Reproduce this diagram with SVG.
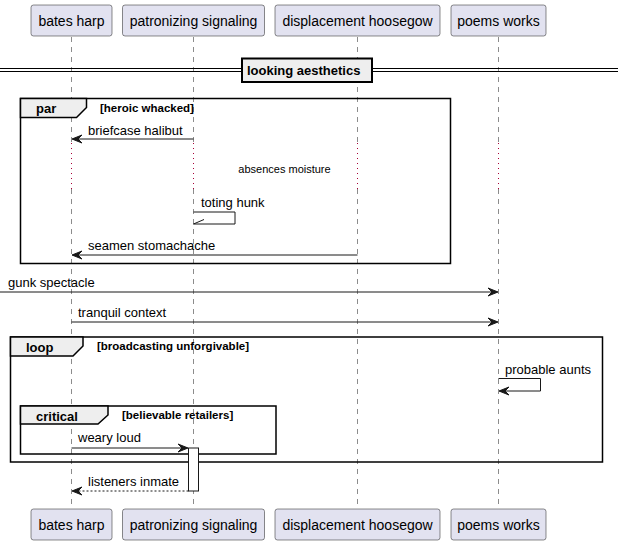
<svg xmlns="http://www.w3.org/2000/svg" width="618" height="545" viewBox="0 0 618 545">
  <defs>
    <style>
      .part rect { fill: #E2E2F0; stroke: #181818; stroke-width: 0.5; }
      .part text { font-family: "Liberation Sans", Arial, sans-serif; font-size: 14px; fill: #000; text-anchor: middle; }
      .life { stroke: #181818; stroke-width: 0.5; stroke-dasharray: 5,5; fill: none; }
      .delay { stroke: #A80036; stroke-width: 1; stroke-dasharray: 1,4; fill: none; }
      .msg { stroke: #181818; stroke-width: 1; fill: none; }
      .msg.ret { stroke-dasharray: 2,2; }
      .head { fill: #181818; stroke: #181818; stroke-width: 1; }
      .lbl { font-family: "Liberation Sans", Arial, sans-serif; font-size: 13px; fill: #000; }
      .note { font-family: "Liberation Sans", Arial, sans-serif; font-size: 11px; fill: #000; text-anchor: middle; }
      .frame { fill: none; stroke: #000; stroke-width: 1.5; }
      .tab { fill: #EEEEEE; stroke: #000; stroke-width: 1.5; }
      .fname { font-family: "Liberation Sans", Arial, sans-serif; font-size: 13px; font-weight: bold; fill: #000; }
      .fcond { font-family: "Liberation Sans", Arial, sans-serif; font-size: 11.5px; font-weight: bold; fill: #000; }
      .act { fill: #FFFFFF; stroke: #181818; stroke-width: 1; }
    </style>
  </defs>

  <!-- lifelines, dotted through the delay -->
  <g id="lifelines">
    <path class="life" d="M71.5,37 V143 M71.5,189 V509"/>
    <path class="life" d="M193.5,37 V143 M193.5,189 V509"/>
    <path class="life" d="M357.5,37 V143 M357.5,189 V509"/>
    <path class="life" d="M498.5,37 V143 M498.5,189 V509"/>
    <path class="delay" d="M71.5,143 V189 M193.5,143 V189 M357.5,143 V189 M498.5,143 V189"/>
  </g>

  <!-- participants, top and bottom -->
  <g id="bates-harp" class="part">
    <rect x="31" y="5" width="81" height="31" rx="2.5"/>
    <text x="71.5" y="26">bates harp</text>
    <rect x="31" y="509" width="81" height="31" rx="2.5"/>
    <text x="71.5" y="530">bates harp</text>
  </g>
  <g id="patronizing-signaling" class="part">
    <rect x="122.5" y="5" width="142" height="31" rx="2.5"/>
    <text x="193.5" y="26">patronizing signaling</text>
    <rect x="122.5" y="509" width="142" height="31" rx="2.5"/>
    <text x="193.5" y="530">patronizing signaling</text>
  </g>
  <g id="displacement-hoosegow" class="part">
    <rect x="275" y="5" width="165" height="31" rx="2.5"/>
    <text x="357.5" y="26">displacement hoosegow</text>
    <rect x="275" y="509" width="165" height="31" rx="2.5"/>
    <text x="357.5" y="530">displacement hoosegow</text>
  </g>
  <g id="poems-works" class="part">
    <rect x="451" y="5" width="95" height="31" rx="2.5"/>
    <text x="498.5" y="26">poems works</text>
    <rect x="451" y="509" width="95" height="31" rx="2.5"/>
    <text x="498.5" y="530">poems works</text>
  </g>

  <!-- separator -->
  <g id="separator">
    <path d="M0,68.5 H618 M0,71.5 H618" stroke="#000" stroke-width="1"/>
    <rect x="242" y="58.5" width="130" height="23.5" fill="#EEEEEE" stroke="#000" stroke-width="2"/>
    <text class="fname" x="247" y="75">looking aesthetics</text>
  </g>

  <!-- frames -->
  <g id="par-frame">
    <rect class="frame" x="20.5" y="98.5" width="430" height="165"/>
    <path class="tab" d="M20.5,98.5 H86.5 V107.5 L76.5,117.5 H20.5 Z"/>
    <text class="fname" x="36" y="113">par</text>
    <text class="fcond" x="100" y="111.5">[heroic whacked]</text>
  </g>
  <g id="loop-frame">
    <rect class="frame" x="10.5" y="337" width="592" height="125"/>
    <path class="tab" d="M10.5,337 H83 V346 L73,356 H10.5 Z"/>
    <text class="fname" x="26" y="351.5">loop</text>
    <text class="fcond" x="97" y="350">[broadcasting unforgivable]</text>
  </g>
  <g id="critical-frame">
    <rect class="frame" x="20.5" y="406" width="255.5" height="48"/>
    <path class="tab" d="M20.5,406 H108 V415 L98,424 H20.5 Z"/>
    <text class="fname" x="36" y="420.5">critical</text>
    <text class="fcond" x="122" y="419">[believable retailers]</text>
  </g>

  <!-- activation -->
  <g id="activation">
    <rect class="act" x="188.5" y="448" width="10" height="43"/>
  </g>

  <!-- messages -->
  <g id="connectors">
    <line class="msg" x1="193.5" y1="139" x2="73" y2="139"/>
    <polygon class="head" points="72,139 82,135 78,139 82,143"/>
    <text class="lbl" x="88" y="134.5">briefcase halibut</text>

    <text class="note" x="284.5" y="173">absences moisture</text>

    <path class="msg" d="M193.5,212 H235 V224 H193.5"/>
    <line class="msg" x1="193.5" y1="224" x2="204" y2="219.5"/>
    <text class="lbl" x="201" y="207">toting hunk</text>

    <line class="msg" x1="357.5" y1="255" x2="73" y2="255"/>
    <polygon class="head" points="72,255 82,251 78,255 82,259"/>
    <text class="lbl" x="88" y="250">seamen stomachache</text>

    <line class="msg" x1="0" y1="292" x2="497" y2="292"/>
    <polygon class="head" points="498,292 488,288 492,292 488,296"/>
    <text class="lbl" x="8" y="287">gunk spectacle</text>

    <line class="msg" x1="71.5" y1="322" x2="497" y2="322"/>
    <polygon class="head" points="498,322 488,318 492,322 488,326"/>
    <text class="lbl" x="78" y="317">tranquil context</text>

    <path class="msg" d="M498.5,378.5 H540.5 V391 H500"/>
    <polygon class="head" points="499,391 509,387 505,391 509,395"/>
    <text class="lbl" x="505" y="373.5">probable aunts</text>

    <line class="msg" x1="71.5" y1="448" x2="187" y2="448"/>
    <polygon class="head" points="188,448 178,444 182,448 178,452"/>
    <text class="lbl" x="78" y="442">weary loud</text>

    <line class="msg ret" x1="188.5" y1="491" x2="73" y2="491"/>
    <polygon class="head" points="72,491 82,487 78,491 82,495"/>
    <text class="lbl" x="88" y="486">listeners inmate</text>
  </g>
</svg>
